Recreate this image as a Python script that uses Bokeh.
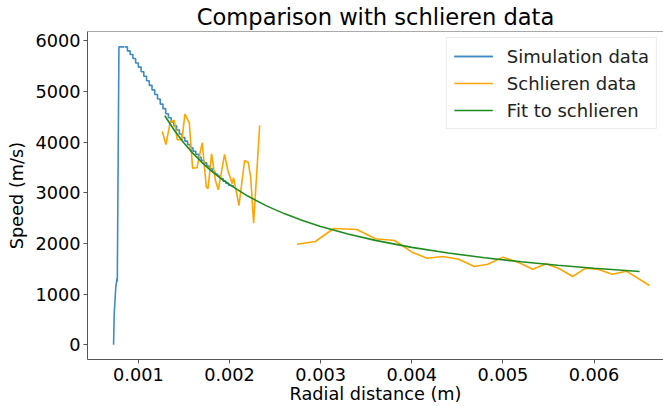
from bokeh.plotting import figure
from bokeh.models import Range1d, FixedTicker, PrintfTickFormatter, Legend, LegendItem, Span
from bokeh.embed import file_html
from bokeh.resources import INLINE

# ---------------- data ----------------
sim_rise_x = [0.000728, 0.000735, 0.000752, 0.000766, 0.000769, 0.000787, 0.000845]
sim_rise_y = [0, 600, 1130, 1310, 1250, 5880, 5880]

sim_x = [0.00085, 0.00088, 0.00091, 0.00094, 0.00097, 0.00100, 0.00103, 0.00106,
         0.00109, 0.00112, 0.00115, 0.00118, 0.00121, 0.00124, 0.00127, 0.00130,
         0.00133, 0.00136, 0.00139, 0.00142, 0.00145, 0.00148, 0.00151, 0.00154,
         0.00157, 0.00160, 0.00163, 0.00166, 0.00169, 0.00172, 0.00175, 0.00178,
         0.00181, 0.00184, 0.00187, 0.00190, 0.00193, 0.00196, 0.00199, 0.00202,
         0.00205]
sim_y = [5880, 5800, 5730, 5650, 5560, 5480, 5390, 5300,
         5210, 5120, 5030, 4940, 4850, 4750, 4660, 4560,
         4480, 4400, 4320, 4240, 4160, 4090, 4020, 3950,
         3890, 3820, 3760, 3700, 3640, 3590, 3530, 3480,
         3420, 3370, 3330, 3280, 3230, 3190, 3150, 3140,
         3140]

schl_x = [0.001262, 0.001303, 0.001350, 0.001394, 0.001427, 0.001478, 0.001511, 0.001559,
          0.001595, 0.001643, 0.001701, 0.001745, 0.001764, 0.001804, 0.001844, 0.001877,
          0.001946, 0.001983, 0.002030, 0.002045, 0.002104, 0.002166, 0.002206, 0.002233,
          0.002265, 0.002331,
          float("nan"),
          0.002741, 0.002942, 0.003143, 0.003399, 0.003600, 0.003812, 0.004003, 0.004168,
          0.004340, 0.004515, 0.004687, 0.004833, 0.005002, 0.005173, 0.005327, 0.005474,
          0.005620, 0.005766, 0.005906, 0.006052, 0.006198, 0.006355, 0.006608]
schl_y = [4210, 3953, 4400, 4427, 4046, 4046, 4551, 4380,
          3486, 3493, 3987, 3124, 3079, 3770, 3256, 3059,
          3756, 3440, 3180, 3296, 2749, 3637, 3598, 3300,
          2400, 4328,
          float("nan"),
          1985, 2039, 2295, 2276, 2092, 2058, 1828, 1709,
          1743, 1690, 1546, 1591, 1730, 1624, 1493, 1598,
          1500, 1348, 1512, 1486, 1393, 1453, 1170]

fit_x = [0.00129, 0.0014, 0.0015, 0.0016, 0.0017, 0.0018, 0.0019, 0.0020, 0.0022,
         0.0024, 0.0026, 0.0028, 0.0030, 0.0033, 0.0036, 0.0040, 0.0044, 0.0048,
         0.0052, 0.0056, 0.0060, 0.0065]
fit_y = [4520, 4219, 3984, 3778, 3596, 3434, 3290, 3160, 2935,
         2747, 2589, 2453, 2335, 2185, 2061, 1923, 1811, 1717,
         1638, 1570, 1511, 1448]

x_ticks = [0.001, 0.002, 0.003, 0.004, 0.005, 0.006]
y_ticks = [0, 1000, 2000, 3000, 4000, 5000, 6000]

# ---------------- figure ----------------
FONT = "DejaVu Sans"
p = figure(width=663, height=406, output_backend="svg", toolbar_location=None,
           x_range=Range1d(0.000442, 0.006762), y_range=Range1d(-290, 6183),
           min_border_left=87, min_border_right=0, min_border_top=31, min_border_bottom=47,
           title="Comparison with schlieren data")
p.outline_line_color = None
p.xgrid.visible = False
p.ygrid.visible = False
p.background_fill_color = "white"
p.border_fill_color = "white"

p.title.text_font = FONT
p.title.text_font_size = "22.6px"
p.title.text_font_style = "normal"
p.title.text_color = "black"
p.title.align = "center"
p.title.offset = 5
p.title.standoff = 3

for ax in (p.xaxis[0], p.yaxis[0]):
    ax.major_label_text_font = FONT
    ax.major_label_text_font_size = "17.7px"
    ax.major_label_text_color = "black"
    ax.axis_label_text_font = FONT
    ax.axis_label_text_font_size = "17.7px"
    ax.axis_label_text_font_style = "normal"
    ax.axis_label_text_color = "black"
    ax.axis_line_color = "#555555"
    ax.major_tick_line_color = "#555555"
    ax.major_tick_out = 4
    ax.major_tick_in = 0
    ax.minor_tick_line_color = None
    ax.major_label_standoff = 3
    ax.axis_label_standoff = 4

p.xaxis[0].ticker = FixedTicker(ticks=x_ticks)
p.xaxis[0].formatter = PrintfTickFormatter(format="%.3f")
p.xaxis[0].axis_label = "Radial distance (m)"
p.xaxis[0].major_label_standoff = 4
p.xaxis[0].axis_label_standoff = 0
p.xaxis[0].axis_label_text_line_height = 0.9
p.yaxis[0].ticker = FixedTicker(ticks=y_ticks)
p.yaxis[0].formatter = PrintfTickFormatter(format="%d")
p.yaxis[0].axis_label = "Speed (m/s)"
p.yaxis[0].axis_label_standoff = 5

top_spine = Span(location=6183, dimension="width", line_color="#555555", line_width=1)
p.add_layout(top_spine)

BLUE = "#3f8cc4"
ORANGE = "#ffa500"
GREEN = "#1f8c1f"

r_rise = p.line(sim_rise_x, sim_rise_y, line_color=BLUE, line_width=1.6)
r_sim = p.step(sim_x, sim_y, mode="after", line_color=BLUE, line_width=1.6)
r_schl = p.line(schl_x, schl_y, line_color=ORANGE, line_width=1.6)
r_fit = p.line(fit_x, fit_y, line_color=GREEN, line_width=1.6)

legend = Legend(items=[
    LegendItem(label="Simulation data", renderers=[r_sim, r_rise]),
    LegendItem(label="Schlieren data", renderers=[r_schl]),
    LegendItem(label="Fit to schlieren", renderers=[r_fit]),
], location="top_right")
legend.label_text_font = FONT
legend.label_text_font_size = "18px"
legend.label_text_color = "#222222"
legend.glyph_width = 39
legend.glyph_height = 22
legend.label_height = 22
legend.label_standoff = 14
legend.spacing = 5
legend.padding = 7
legend.margin = 6
legend.border_line_color = "#d8d8d8"
legend.border_line_width = 1
legend.background_fill_alpha = 0.8
p.add_layout(legend)

open("out.html", "w").write(file_html(p, INLINE))
